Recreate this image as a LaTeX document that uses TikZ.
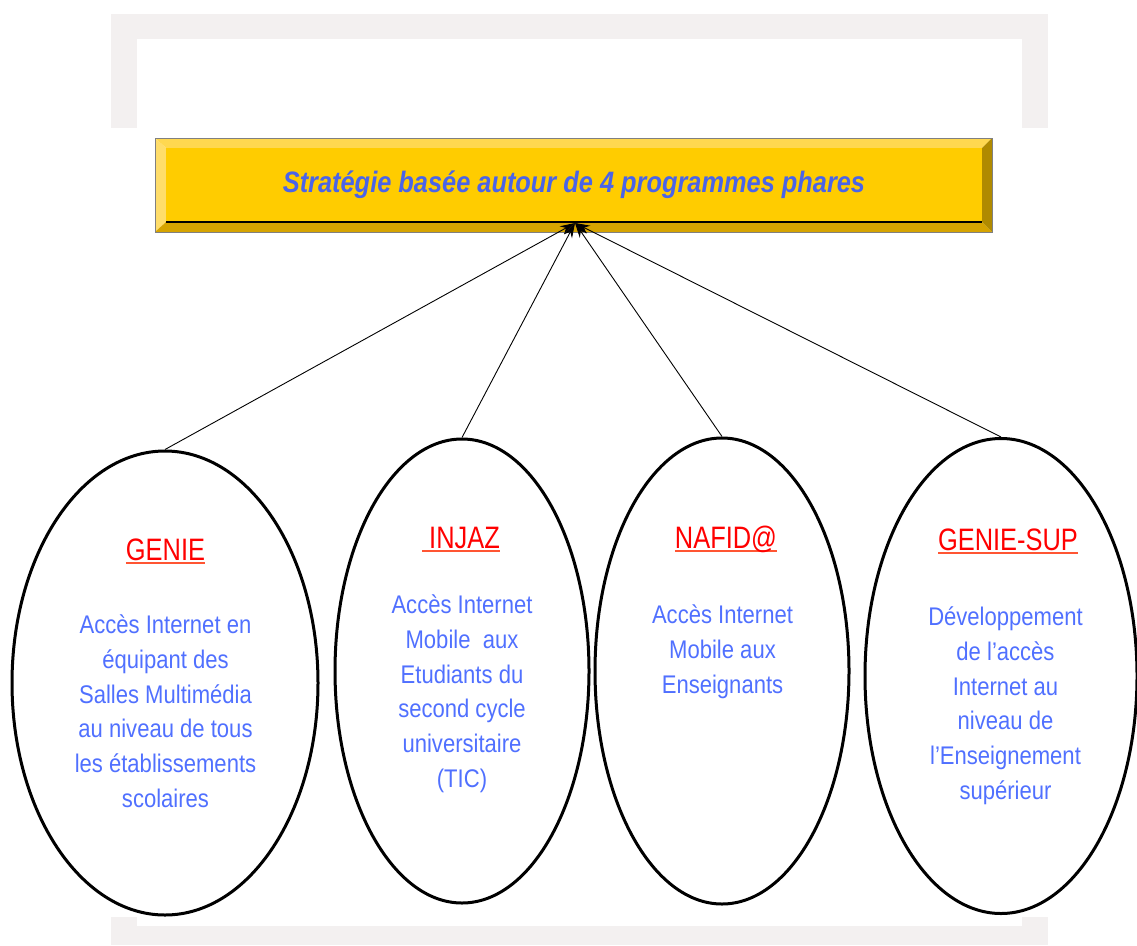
\documentclass[tikz,border=0pt]{standalone}
\usepackage{fontspec}
\newfontfamily\bodyfont[FakeStretch=0.865]{Liberation Sans}
\newfontfamily\namefont[FakeStretch=0.82]{Liberation Sans}
\newfontfamily\bannerfont[FakeStretch=0.86]{Liberation Sans}
\usetikzlibrary{shapes.geometric}
\usetikzlibrary{arrows.meta}
\usetikzlibrary{positioning}
\usepackage{xcolor}

\definecolor{framegray}{HTML}{F3F0F0}
\definecolor{facegold}{HTML}{FFCC00}
\definecolor{bevellight}{HTML}{FFD850}
\definecolor{bevelleft}{HTML}{FFDD6A}
\definecolor{beveldark}{HTML}{D6A400}
\definecolor{bevelside}{HTML}{B08A00}
\definecolor{bannerblue}{HTML}{4A64E8}
\definecolor{bodyblue}{HTML}{5070FF}
\definecolor{ulred}{HTML}{FF5533}

% underlined programme name
\newcommand\progline[1]{\setbox0\hbox{#1}\rlap{\color{ulred}\rule[-4pt]{\wd0}{2pt}}\box0}

\tikzset{
  prog/.style={draw, ellipse, line width=3pt, inner sep=0pt},
  progname/.style={text=red, anchor=base, inner sep=0pt,
    font=\namefont\fontsize{31pt}{34pt}\selectfont},
  progtext/.style={text=bodyblue, align=center, anchor=north, inner sep=0pt,
    font=\bodyfont\fontsize{25.5pt}{34.8pt}\selectfont},
  link/.style={line width=0.9pt, -{Stealth[length=15pt,width=9pt]}}
}

\begin{document}
\begin{tikzpicture}[x=1pt,y=-1pt]
\useasboundingbox (0,0) rectangle (1137,945);

% faint frame
\fill[framegray] (111,14) rectangle (1048,128);
\fill[white] (137,39) rectangle (1022,128);
\fill[framegray] (111,917) rectangle (1048,945);
\fill[white] (137,917) rectangle (1022,926);

% bevelled banner
\fill[bevellight] (155,138) -- (992,138) -- (982,148) -- (166,148) -- cycle;
\fill[bevelleft] (155,138) -- (166,148) -- (166,222) -- (155,232) -- cycle;
\fill[beveldark] (155,232) -- (166,222) -- (982,222) -- (992,232) -- cycle;
\fill[bevelside] (992,138) -- (992,232) -- (982,222) -- (982,148) -- cycle;
\node[fill=facegold, minimum width=816pt, minimum height=74pt, inner sep=0pt,
  text=bannerblue, font=\bannerfont\bfseries\itshape\fontsize{29.5pt}{34pt}\selectfont]
  (strat) at (574,185) {Stratégie basée autour de 4 programmes phares};
\draw[gray, line width=0.6pt] (155,138) rectangle (992,232);
\draw[line width=1.5pt] (strat.south west) -- (strat.south east);

\coordinate (tip) at (575,223);

% programmes
\node[prog, minimum width=306pt, minimum height=464pt] (genie) at (165,683) {};
\node[prog, minimum width=254pt, minimum height=464pt] (injaz) at (462,671) {};
\node[prog, minimum width=254pt, minimum height=466pt] (nafida) at (722,671) {};
\node[prog, minimum width=272pt, minimum height=475pt] (geniesup) at (1001,676) {};

\foreach \p in {genie,injaz,nafida,geniesup}
  \draw[link] (\p.north) -- (tip);

\node[progname] (genieN) at (165.5,560) {\progline{GENIE}};
\node[progname] (injazN) at (461,548) {\progline{\ INJAZ}};
\node[progname] (nafidaN) at (726,548) {\progline{NAFID@}};
\node[progname] (geniesupN) at (1008,550) {\progline{GENIE-SUP}};

\node[progtext] (genieT) at (165.5,614.5) {Accès Internet en\\équipant des\\Salles Multimédia\\au niveau de tous\\les établissements\\scolaires};
\node[progtext] (injazT) at (462,594.5) {Accès Internet\\Mobile~ aux\\Etudiants du\\second cycle\\universitaire\\(TIC)};
\node[progtext] (nafidaT) at (722.5,604.5) {Accès Internet\\Mobile aux\\Enseignants};
\node[progtext] (geniesupT) at (1005.5,606.5) {Développement\\de l’accès\\Internet au\\niveau de\\l’Enseignement\\supérieur};

\end{tikzpicture}
\end{document}
